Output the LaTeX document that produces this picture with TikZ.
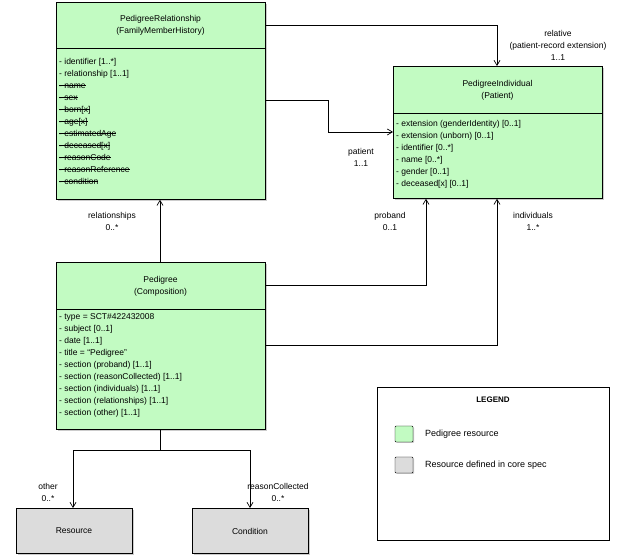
\documentclass[tikz,border=0pt]{standalone}
\usepackage{fontspec}
\setmainfont{Liberation Sans}
\usetikzlibrary{arrows.meta,shadows}
\newcommand\strk[1]{\setbox0\hbox{#1}\rlap{\rule[2.6pt]{\wd0}{0.5pt}}\box0}
\definecolor{pgreen}{HTML}{C2FBC2}
\definecolor{cgray}{HTML}{DCDCDC}
\tikzset{
  box/.style={draw, line width=0.8pt, fill=#1, anchor=north west, inner sep=0pt, drop shadow={shadow xshift=1.5pt, shadow yshift=-1.5pt, opacity=0.4}},
  txt/.style={font=\fontsize{8.5}{12}\selectfont, inner sep=0pt},
  list/.style={txt, anchor=north west, align=left},
  conn/.style={line width=0.7pt, -{Straight Barb[length=5pt,width=6pt]}},
  line/.style={line width=0.7pt},
}
\begin{document}
\begin{tikzpicture}[x=1pt,y=-1pt]
\useasboundingbox (0,0) rectangle (625,556);
% PedigreeRelationship
\node[box=pgreen, minimum width=209pt, minimum height=197pt] (pr) at (56,2) {};
\draw[line width=0.7pt] (56,48) -- (265,48);
\node[txt, align=center] (prh) at (160.5,25) {PedigreeRelationship\\(FamilyMemberHistory)};
\node[list] (prl) at (59,58) {- identifier [1..*]\\- relationship [1..1]\\\strk{- name}\\\strk{- sex}\\\strk{- born[x]}\\\strk{- age[x]}\\\strk{- estimatedAge}\\\strk{- deceased[x]}\\\strk{- reasonCode}\\\strk{- reasonReference}\\\strk{- condition}};
% PedigreeIndividual
\node[box=pgreen, minimum width=209pt, minimum height=132pt] (pi) at (393,66) {};
\draw[line width=0.7pt] (393,113) -- (602,113);
\node[txt, align=center] (pih) at (497.5,90) {PedigreeIndividual\\(Patient)};
\node[list] (pil) at (396,120) {- extension (genderIdentity) [0..1]\\- extension (unborn) [0..1]\\- identifier [0..*]\\- name [0..*]\\- gender [0..1]\\- deceased[x] [0..1]};
% Pedigree
\node[box=pgreen, minimum width=209pt, minimum height=167pt] (pe) at (56,262) {};
\draw[line width=0.7pt] (56,309) -- (265,309);
\node[txt, align=center] (peh) at (160.5,286) {Pedigree\\(Composition)};
\node[list] (pel) at (59,313) {- type = SCT\#422432008\\- subject [0..1]\\- date [1..1]\\- title = “Pedigree”\\- section (proband) [1..1]\\- section (reasonCollected) [1..1]\\- section (individuals) [1..1]\\- section (relationships) [1..1]\\- section (other) [1..1]};
% Resource / Condition
\node[box=cgray, minimum width=116pt, minimum height=45pt] (res) at (16,508) {};
\node[txt] (rest) at (74,531) {Resource};
\node[box=cgray, minimum width=116pt, minimum height=45pt] (cond) at (192,508) {};
\node[txt] (condt) at (250,531) {Condition};
% Legend
\node[draw, fill=white, anchor=north west, inner sep=0pt, minimum width=232pt, minimum height=153pt, line width=1.2pt] (leg) at (377,387) {};
\node[txt, font=\fontsize{8}{10}\selectfont\bfseries] (legt) at (493,400) {LEGEND};
\node[draw, fill=pgreen, minimum width=18pt, minimum height=16pt, inner sep=0pt, rounded corners=1pt, drop shadow={shadow xshift=1pt, shadow yshift=-1pt, opacity=0.4}] (lg1) at (404,434) {};
\node[txt, anchor=west, font=\fontsize{9}{11}\selectfont] (lg1t) at (425,434) {Pedigree resource};
\node[draw, fill=cgray, minimum width=18pt, minimum height=16pt, inner sep=0pt, rounded corners=1pt, drop shadow={shadow xshift=1pt, shadow yshift=-1pt, opacity=0.4}] (lg2) at (404,465) {};
\node[txt, anchor=west, font=\fontsize{9}{11}\selectfont] (lg2t) at (425,465) {Resource defined in core spec};
% connectors
\draw[conn] (pr.north east |- 0,25) -| (pi.north -| 497,0);
\node[txt, align=center] (l1) at (558,45) {relative\\(patient-record extension)\\1..1};
\draw[conn] (pr.north east |- 0,100) -- (328,100) |- (pi.north west |- 0,132);
\node[txt, align=center] (l2) at (361,157) {patient\\1..1};
\draw[conn] (pe.north -| 160,0) -- (pr.south -| 160,0);
\node[txt, align=center] (l3) at (112,221) {relationships\\0..*};
\draw[conn] (pe.north east |- 0,285) -| (pi.south -| 426,0);
\node[txt, align=center] (l4) at (390,221) {proband\\0..1};
\draw[conn] (pe.north east |- 0,345) -| (pi.south -| 497,0);
\node[txt, align=center] (l5) at (533,221) {individuals\\1..*};
\coordinate (j) at (160,450);
\draw[line] (pe.south -| 160,0) -- (j);
\draw[conn] (j) -| (res.north -| 73,0);
\draw[conn] (j) -| (cond.north -| 250,0);
\node[txt, align=center] (l6) at (48,492) {other\\0..*};
\node[txt, align=center] (l7) at (278,492) {reasonCollected\\0..*};
\end{tikzpicture}
\end{document}
